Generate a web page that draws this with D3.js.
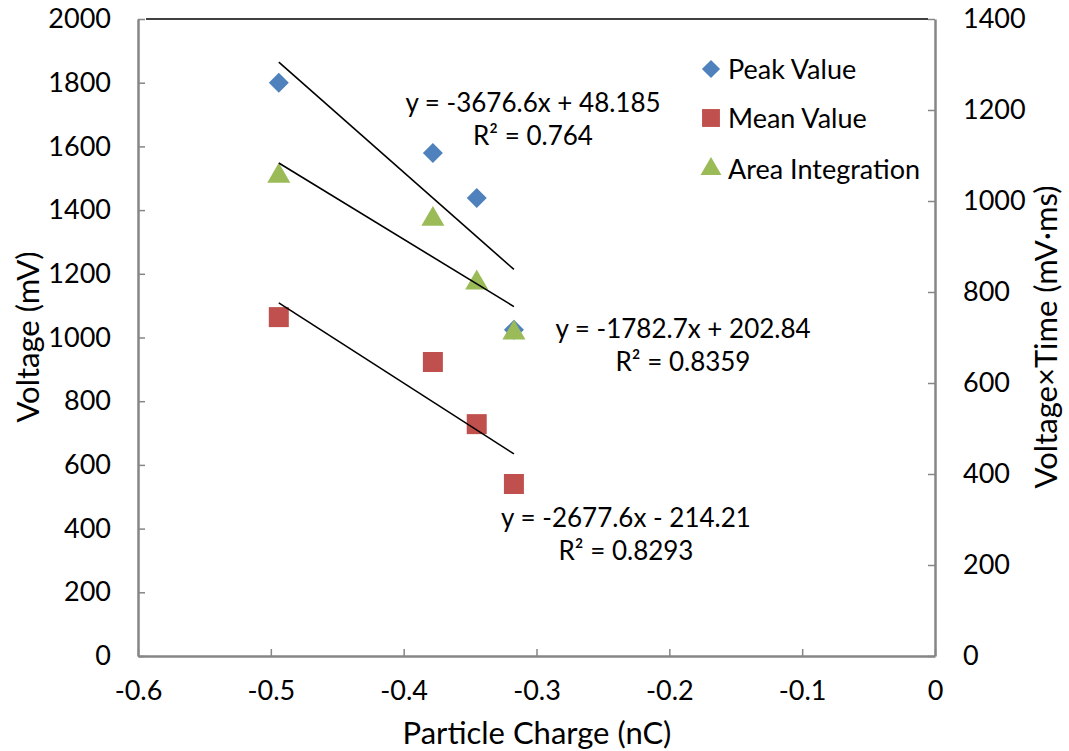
<!DOCTYPE html>
<html>
<head>
<meta charset="utf-8">
<script src="https://cdn.jsdelivr.net/npm/d3@7"></script>
<style>
  html, body { margin: 0; padding: 0; background: #fff; }
  svg text { font-family: Lato, "Open Sans", sans-serif; fill: #000; }
</style>
</head>
<body>
<svg id="chart" width="1069" height="751"></svg>
<script>
// Particle charge (nC) for each measurement
const charge = [-0.494, -0.378, -0.345, -0.317];
// Left axis series (mV)
const peakValue = [1800, 1579, 1438, 1024];
const meanValue = [1064, 923, 728, 540];
// Right axis series (mV·ms)
const areaIntegration = [1055, 960, 820, 710];

// Linear fits: [slope, intercept]
const peakFit = [-3676.6, 48.185];
const meanFit = [-2677.6, -214.21];
const areaFit = [-1782.7, 202.84];

const xTicks = [-0.6, -0.5, -0.4, -0.3, -0.2, -0.1, 0];
const yLeftTicks = [0, 200, 400, 600, 800, 1000, 1200, 1400, 1600, 1800, 2000];
const yRightTicks = [0, 200, 400, 600, 800, 1000, 1200, 1400];

const colors = { peak: "#4F81BD", mean: "#C0504D", area: "#9BBB59" };
const axisGray = "#868686";

const svg = d3.select("#chart");
const m = { left: 138, right: 935, top: 19, bottom: 656 };

const x = d3.scaleLinear().domain([-0.6, 0]).range([m.left, m.right]);
const yL = d3.scaleLinear().domain([0, 2000]).range([m.bottom, m.top]);
const yR = d3.scaleLinear().domain([0, 1400]).range([m.bottom, m.top]);

// Top border line at 2000
svg.append("line")
  .attr("x1", m.left + 8).attr("x2", m.right - 7)
  .attr("y1", yL(2000)).attr("y2", yL(2000))
  .attr("stroke", "#000").attr("stroke-width", 1.5);

function styleAxis(g) {
  g.select(".domain").attr("stroke", axisGray).attr("stroke-width", 2.5);
  g.selectAll(".tick line").attr("stroke", axisGray).attr("stroke-width", 1.5);
  g.selectAll(".tick text").attr("font-size", 27).attr("fill", "#000");
}

// Bottom axis
const gx = svg.append("g").attr("transform", `translate(0,${m.bottom})`)
  .call(d3.axisBottom(x).tickValues(xTicks).tickSizeInner(-7).tickSizeOuter(0)
    .tickPadding(25).tickFormat(d => d === 0 ? "0" : d3.format(".1f")(d).replace("−", "-")));
styleAxis(gx);
gx.selectAll(".tick text").attr("dy", "0.71em");

// Left axis
const gl = svg.append("g").attr("transform", `translate(${m.left},0)`)
  .call(d3.axisLeft(yL).tickValues(yLeftTicks).tickSizeInner(-7).tickSizeOuter(0)
    .tickPadding(27).tickFormat(d3.format("d")));
styleAxis(gl);

// Right axis
const gr = svg.append("g").attr("transform", `translate(${m.right},0)`)
  .call(d3.axisRight(yR).tickValues(yRightTicks).tickSizeInner(-7).tickSizeOuter(0)
    .tickPadding(28).tickFormat(d3.format("d")));
styleAxis(gr);

// Axis titles
svg.append("text").attr("x", 537).attr("y", 744).attr("text-anchor", "middle")
  .attr("font-size", 31).text("Particle Charge (nC)");
svg.append("text").attr("transform", `translate(39,337) rotate(-90)`)
  .attr("text-anchor", "middle").attr("font-size", 31).text("Voltage (mV)");
svg.append("text").attr("transform", `translate(1057,337) rotate(-90)`)
  .attr("text-anchor", "middle").attr("font-size", 31).text("Voltage×Time (mV·ms)");

// Markers
const diamond = d3.symbol().type(d3.symbolSquare).size(200);
const square = d3.symbol().type(d3.symbolSquare).size(400);
const triangle = d3.symbol().type(d3.symbolTriangle).size(230);

function drawSeries(vals, yScale, sym, color, rotate) {
  svg.append("g").selectAll("path").data(vals).join("path")
    .attr("d", sym)
    .attr("transform", (d, i) => `translate(${x(charge[i])},${yScale(d)})` + (rotate ? " rotate(45)" : ""))
    .attr("fill", color);
}
drawSeries(peakValue, yL, diamond, colors.peak, true);
drawSeries(meanValue, yL, square, colors.mean, false);
drawSeries(areaIntegration, yR, triangle, colors.area, false);

// Trendlines across the data range
const xExt = d3.extent(charge);
function drawFit(fit, yScale) {
  const pts = xExt.map(c => [x(c), yScale(fit[0] * c + fit[1])]);
  svg.append("path").attr("d", d3.line()(pts))
    .attr("stroke", "#000").attr("stroke-width", 1.6).attr("fill", "none");
}
drawFit(peakFit, yL);
drawFit(meanFit, yL);
drawFit(areaFit, yR);

// Fit equations, two centred lines each
function eq(fit, r2, cx, cy) {
  const sign = fit[1] < 0 ? "-" : "+";
  const t1 = `y = ${fit[0]}x ${sign} ${Math.abs(fit[1])}`.replace("−", "-");
  svg.append("text").attr("x", cx).attr("y", cy).attr("text-anchor", "middle")
    .attr("font-size", 26).text(t1);
  svg.append("text").attr("x", cx).attr("y", cy + 33).attr("text-anchor", "middle")
    .attr("font-size", 26).text(`R² = ${r2}`);
}
eq(peakFit, "0.764", 533, 112);
eq(areaFit, "0.8359", 683, 338);
eq(meanFit, "0.8293", 626, 527);

// Legend
const legend = [
  { name: "Peak Value", color: colors.peak, sym: d3.symbol().type(d3.symbolSquare).size(165), rot: true, y: 69 },
  { name: "Mean Value", color: colors.mean, sym: d3.symbol().type(d3.symbolSquare).size(320), rot: false, y: 118 },
  { name: "Area Integration", color: colors.area, sym: d3.symbol().type(d3.symbolTriangle).size(190), rot: false, y: 169 }
];
const lg = svg.append("g").selectAll("g").data(legend).join("g");
lg.append("path").attr("d", d => d.sym())
  .attr("transform", d => `translate(711,${d.y})` + (d.rot ? " rotate(45)" : ""))
  .attr("fill", d => d.color);
lg.append("text").attr("x", 728).attr("y", d => d.y + 10).attr("font-size", 27).text(d => d.name);
</script>
</body>
</html>
